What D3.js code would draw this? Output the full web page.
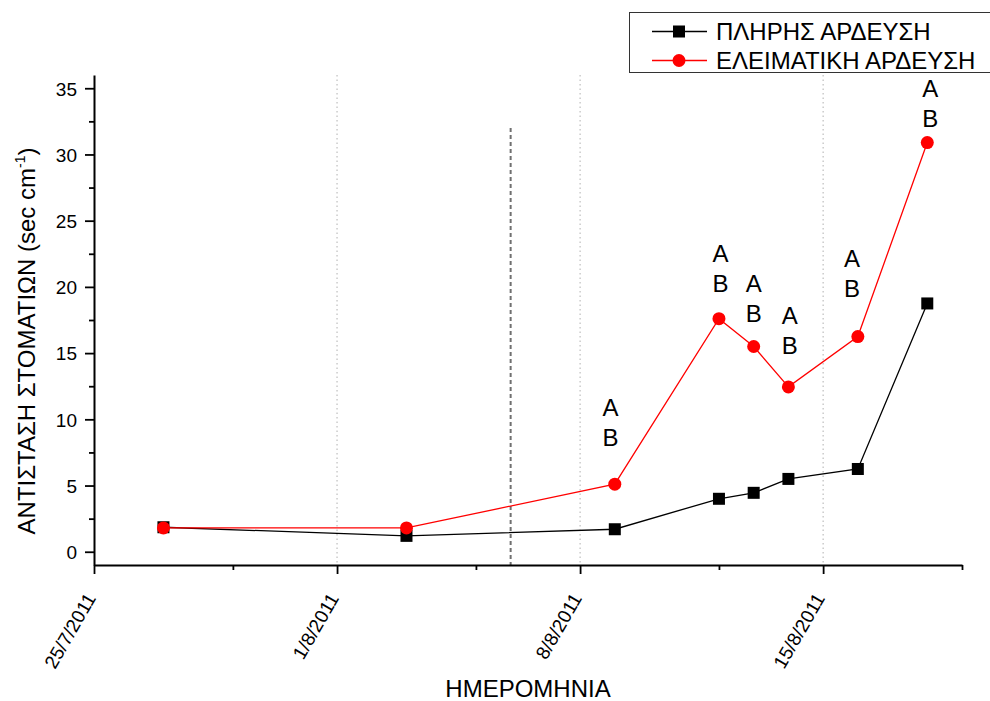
<!DOCTYPE html>
<html>
<head>
<meta charset="utf-8">
<script src="https://cdn.jsdelivr.net/npm/d3@7/dist/d3.min.js"></script>
<style>
  html, body { margin: 0; padding: 0; background: #fff; }
  svg { display: block; font-family: "Liberation Sans", Arial, sans-serif; }
</style>
</head>
<body>
<svg id="chart" width="990" height="701"></svg>
<script>
// Measurement dates and stomatal resistance for the two irrigation treatments
const dates = ["27/7/2011", "3/8/2011", "9/8/2011", "12/8/2011", "13/8/2011", "14/8/2011", "16/8/2011", "18/8/2011"];
const fullIrrigation = [1.85, 1.2, 1.7, 4.0, 4.45, 5.5, 6.25, 18.75];
const deficitIrrigation = [1.8, 1.8, 5.1, 17.6, 15.5, 12.45, 16.25, 30.9];
const seriesNames = ["ΠΛΗΡΗΣ ΑΡΔΕΥΣΗ", "ΕΛΕΙΜΑΤΙΚΗ ΑΡΔΕΥΣΗ"];

// Axis ticks
const majorTickDates = ["25/7/2011", "1/8/2011", "8/8/2011", "15/8/2011"];
const minorTickDates = ["29/7/2011", "5/8/2011", "12/8/2011", "19/8/2011"];
const yMajorTicks = [0, 5, 10, 15, 20, 25, 30, 35];
const yMinorTicks = [2.5, 7.5, 12.5, 17.5, 22.5, 27.5, 32.5];

// Significance letters (anchor date/time and value at the first letter)
const letters = ["A", "B"];
const letterDates = ["2011-08-08T21:00", "2011-08-12T01:00", "2011-08-13T00:00", "2011-08-14T01:00", "2011-08-15T20:00", "2011-08-18T02:00"];
const letterValues = [10.9, 22.5, 20.25, 17.85, 22.15, 35.0];

// Reference line (start of treatment)
const refLineDate = "6/8/2011";
const refLineTop = 32;

const parseDate = d3.timeParse("%d/%m/%Y");
const parseIso = d3.timeParse("%Y-%m-%dT%H:%M");
const fmt = d3.timeFormat("%-d/%-m/%Y");

const svg = d3.select("#chart");
const margin = { left: 94, right: 28, top: 75, bottom: 136 };
const W = 990, H = 701;

const x = d3.scaleTime()
  .domain([parseDate("25/7/2011"), parseDate("19/8/2011")])
  .range([margin.left, W - margin.right]);
const y = d3.scaleLinear()
  .domain([-1, 36])
  .range([H - margin.bottom, margin.top]);

const x0 = x.range()[0], x1 = x.range()[1];
const yBottom = y.range()[0], yTop = y.range()[1];

// Vertical dotted gridlines at the labelled dates (excluding the axis itself)
svg.append("g")
  .selectAll("line")
  .data(majorTickDates.slice(1).map(parseDate))
  .join("line")
  .attr("x1", d => x(d)).attr("x2", d => x(d))
  .attr("y1", yTop).attr("y2", yBottom)
  .attr("stroke", "#b0b0b0")
  .attr("stroke-width", 1)
  .attr("stroke-dasharray", "1.5,3");

// Dashed reference line
svg.append("line")
  .attr("x1", x(parseDate(refLineDate))).attr("x2", x(parseDate(refLineDate)))
  .attr("y1", y(refLineTop)).attr("y2", yBottom)
  .attr("stroke", "#707070")
  .attr("stroke-width", 2)
  .attr("stroke-dasharray", "4,3");

// X axis
const xAxisMajor = d3.axisBottom(x)
  .tickValues(majorTickDates.map(parseDate))
  .tickSize(9)
  .tickSizeOuter(0)
  .tickFormat(fmt);
const gx = svg.append("g")
  .attr("transform", `translate(0,${yBottom})`)
  .call(xAxisMajor);
gx.select(".domain").attr("stroke", "#000").attr("stroke-width", 2.2);
gx.selectAll(".tick line").attr("stroke", "#000").attr("stroke-width", 1.8);
gx.selectAll(".tick text")
  .attr("font-size", 19)
  .attr("fill", "#000")
  .attr("text-anchor", "end")
  .attr("dy", null)
  .attr("y", 0)
  .attr("transform", "translate(2,33) rotate(-60)");

svg.append("g")
  .attr("transform", `translate(0,${yBottom})`)
  .call(d3.axisBottom(x).tickValues(minorTickDates.map(parseDate)).tickSize(5).tickSizeOuter(0).tickFormat(""))
  .call(g => g.select(".domain").remove())
  .call(g => g.selectAll(".tick line").attr("stroke", "#000").attr("stroke-width", 1.8));

// Y axis
const gy = svg.append("g")
  .attr("transform", `translate(${x0},0)`)
  .call(d3.axisLeft(y).tickValues(yMajorTicks).tickSize(9).tickSizeOuter(0));
gy.select(".domain").attr("stroke", "#000").attr("stroke-width", 2);
gy.selectAll(".tick line").attr("stroke", "#000").attr("stroke-width", 1.8);
gy.selectAll(".tick text")
  .attr("font-size", 19)
  .attr("fill", "#000")
  .attr("x", -17)
  .attr("dy", "0.36em");

svg.append("g")
  .attr("transform", `translate(${x0},0)`)
  .call(d3.axisLeft(y).tickValues(yMinorTicks).tickSize(5).tickSizeOuter(0).tickFormat(""))
  .call(g => g.select(".domain").remove())
  .call(g => g.selectAll(".tick line").attr("stroke", "#000").attr("stroke-width", 1.8));

// Axis titles
svg.append("text")
  .attr("x", (x0 + x1) / 2)
  .attr("y", 697)
  .attr("text-anchor", "middle")
  .attr("font-size", 24)
  .text("ΗΜΕΡΟΜΗΝΙΑ");

const yTitle = svg.append("text")
  .attr("transform", `translate(35,${(yTop + yBottom) / 2 + 21}) rotate(-90)`)
  .attr("text-anchor", "middle")
  .attr("font-size", 24);
yTitle.append("tspan").text("ΑΝΤΙΣΤΑΣΗ ΣΤΟΜΑΤΙΩΝ (sec cm");
yTitle.append("tspan").attr("font-size", 14).attr("dy", -10).text("-1");
yTitle.append("tspan").attr("dy", 10).text(")");

// Series
const dateValues = dates.map(parseDate);
const line = d3.line().x(d => x(d[0])).y(d => y(d[1]));
const fullData = dateValues.map((d, i) => [d, fullIrrigation[i]]);
const deficitData = dateValues.map((d, i) => [d, deficitIrrigation[i]]);

svg.append("path")
  .datum(fullData)
  .attr("fill", "none")
  .attr("stroke", "#000")
  .attr("stroke-width", 1.3)
  .attr("d", line);
svg.append("g")
  .selectAll("rect")
  .data(fullData)
  .join("rect")
  .attr("x", d => x(d[0]) - 6)
  .attr("y", d => y(d[1]) - 6)
  .attr("width", 12).attr("height", 12)
  .attr("fill", "#000");

svg.append("path")
  .datum(deficitData)
  .attr("fill", "none")
  .attr("stroke", "#ff0000")
  .attr("stroke-width", 1.3)
  .attr("d", line);
svg.append("g")
  .selectAll("circle")
  .data(deficitData)
  .join("circle")
  .attr("cx", d => x(d[0]))
  .attr("cy", d => y(d[1]))
  .attr("r", 6.5)
  .attr("fill", "#ff0000");

// Significance letters
const letterGroups = svg.append("g")
  .selectAll("text")
  .data(letterDates.map((d, i) => [parseIso(d), letterValues[i]]))
  .join("text")
  .attr("x", d => x(d[0]))
  .attr("y", d => y(d[1]) + 8.6)
  .attr("text-anchor", "middle")
  .attr("font-size", 24)
  .attr("fill", "#000");
letterGroups.selectAll("tspan")
  .data(function (d) { return letters.map(l => ({ l, px: x(d[0]) })); })
  .join("tspan")
  .attr("x", d => d.px)
  .attr("dy", (d, i) => i === 0 ? 0 : 30)
  .text(d => d.l);

// Legend
const legend = svg.append("g");
legend.append("rect")
  .attr("x", 629.5).attr("y", 12.5)
  .attr("width", 420).attr("height", 60)
  .attr("fill", "#fff")
  .attr("stroke", "#333")
  .attr("stroke-width", 1);
const legendRows = [
  { name: seriesNames[0], color: "#000", shape: "square", cy: 31.5 },
  { name: seriesNames[1], color: "#ff0000", shape: "circle", cy: 60.5 }
];
legendRows.forEach(r => {
  legend.append("line")
    .attr("x1", 652).attr("x2", 707)
    .attr("y1", r.cy).attr("y2", r.cy)
    .attr("stroke", r.color).attr("stroke-width", 1.3);
  if (r.shape === "square") {
    legend.append("rect").attr("x", 673).attr("y", r.cy - 6).attr("width", 12).attr("height", 12).attr("fill", r.color);
  } else {
    legend.append("circle").attr("cx", 679).attr("cy", r.cy).attr("r", 6.5).attr("fill", r.color);
  }
  legend.append("text")
    .attr("x", 716).attr("y", r.cy + 8)
    .attr("font-size", 24)
    .attr("fill", "#000")
    .text(r.name);
});
</script>
</body>
</html>
